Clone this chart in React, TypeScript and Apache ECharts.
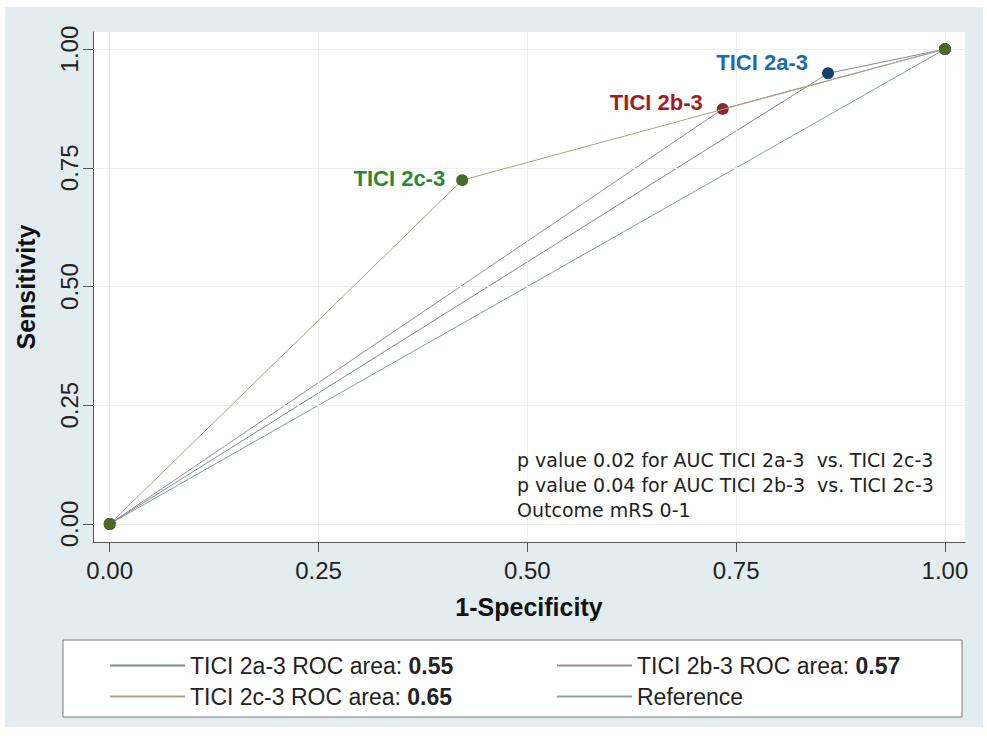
import React, { useEffect, useRef } from "react";
import * as echarts from "echarts";

// ---- data ----
const curveNames = ["TICI 2a-3", "TICI 2b-3", "TICI 2c-3"];
const rocAreas = ["0.55", "0.57", "0.65"];
const fprPoints = [0.86, 0.734, 0.422]; // 1-Specificity at cut point
const tprPoints = [0.949, 0.874, 0.724]; // Sensitivity at cut point
const referenceX = [0, 1];
const referenceY = [0, 1];
const xTicks = [0, 0.25, 0.5, 0.75, 1];
const yTicks = [0, 0.25, 0.5, 0.75, 1];
const annotationLines = [
  "p value 0.02 for AUC TICI 2a-3  vs. TICI 2c-3",
  "p value 0.04 for AUC TICI 2b-3  vs. TICI 2c-3",
  "Outcome mRS 0-1",
];

// ---- styles ----
const lineColors = ["#7d8c98", "#a48a94", "#aaa58a"];
const refLineColor = "#86a09c";
const dotColors = ["#173f6e", "#8c2a30", "#4a6a28"];
const labelColors = ["#1c6bb0", "#a01e22", "#2b8a2b"];
const labelOffsets = [[0, -11], [0, -6], [0, -2]];
const labelDistances = [14, 14, 11];

const fmt = (v: number) => v.toFixed(2);

export default function App() {
  const ref = useRef<HTMLDivElement>(null);
  useEffect(() => {
    if (!ref.current) return;
    const chart = echarts.init(ref.current, null, { renderer: "svg" });

    const seriesNames = curveNames.map((n, i) => `${n} ROC area: ${rocAreas[i]}`);
    const refName = "Reference";

    const curveSeries = curveNames.map((n, i) => ({
      type: "line",
      name: seriesNames[i],
      z: 3 + i,
      symbol: "circle",
      symbolSize: 12,
      showAllSymbol: true,
      lineStyle: { color: lineColors[i], width: 1 },
      itemStyle: { color: dotColors[i] },
      data: [
        [0, 0],
        {
          value: [fprPoints[i], tprPoints[i]],
          label: {
            show: true,
            formatter: n,
            position: "left",
            distance: labelDistances[i],
            offset: labelOffsets[i],
            color: labelColors[i],
            fontFamily: "Liberation Sans, Arial, sans-serif",
            fontWeight: "bold",
            fontSize: 22,
          },
        },
        [1, 1],
      ],
    }));

    const richFmt = (name: string) => {
      const idx = name.indexOf(": ");
      if (idx < 0) return `{n|${name}}`;
      return `{n|${name.slice(0, idx + 2)}}{b|${name.slice(idx + 2)}}`;
    };
    const legendText = {
      fontFamily: "Liberation Sans, Arial, sans-serif",
      fontSize: 23,
      color: "#222",
      rich: {
        n: { fontFamily: "Liberation Sans, Arial, sans-serif", fontSize: 23, color: "#222" },
        b: { fontFamily: "Liberation Sans, Arial, sans-serif", fontSize: 23, color: "#222", fontWeight: "bold" },
      },
    };
    const legendBase = {
      orient: "vertical",
      top: 649,
      itemWidth: 75,
      itemHeight: 2,
      itemGap: 8,
      textStyle: legendText,
      formatter: richFmt,
      selectedMode: false,
      z: 10,
    };

    chart.setOption({
      animation: false,
      backgroundColor: "#ffffff",
      title: {
        text: annotationLines.join("\n"),
        left: 512,
        top: 442,
        z: 20,
        textStyle: {
          fontFamily: "DejaVu Sans, Verdana, sans-serif",
          fontSize: 19,
          fontWeight: "normal",
          lineHeight: 25,
          color: "#222",
        },
      },
      graphic: [
        {
          type: "rect",
          z: -10,
          shape: { x: 5, y: 7, width: 978, height: 720 },
          style: { fill: "#e3edef" },
        },
        {
          type: "rect",
          z: 1,
          shape: { x: 63, y: 640, width: 899, height: 77 },
          style: { fill: "#ffffff", stroke: "#7a7a7a", lineWidth: 1 },
        },
      ],
      grid: {
        left: 93,
        right: 22,
        top: 32,
        bottom: 198,
        show: true,
        backgroundColor: "#ffffff",
        borderWidth: 0,
      },
      xAxis: {
        type: "value",
        min: -0.02,
        max: 1.024,
        name: "1-Specificity",
        nameLocation: "middle",
        nameGap: 52,
        nameTextStyle: {
          fontFamily: "Liberation Sans, Arial, sans-serif",
          fontWeight: "bold",
          fontSize: 25,
          color: "#111",
        },
        axisLine: { show: true, onZero: false, lineStyle: { color: "#555", width: 1 } },
        axisTick: { show: true, length: 10, customValues: xTicks, lineStyle: { color: "#555" } },
        axisLabel: {
          customValues: xTicks,
          formatter: (v: number) => fmt(v),
          margin: 16,
          fontFamily: "Liberation Sans, Arial, sans-serif",
          fontSize: 24,
          color: "#222",
        },
        splitLine: { show: false },
      },
      yAxis: {
        type: "value",
        min: -0.038,
        max: 1.036,
        name: "Sensitivity",
        nameLocation: "middle",
        nameGap: 55,
        nameTextStyle: {
          fontFamily: "Liberation Sans, Arial, sans-serif",
          fontWeight: "bold",
          fontSize: 25,
          color: "#111",
        },
        axisLine: { show: true, onZero: false, lineStyle: { color: "#555", width: 1 } },
        axisTick: { show: true, length: 10, customValues: yTicks, lineStyle: { color: "#555" } },
        axisLabel: {
          customValues: yTicks,
          formatter: (v: number) => fmt(v),
          rotate: 90,
          margin: 12,
          fontFamily: "Liberation Sans, Arial, sans-serif",
          fontSize: 24,
          color: "#222",
        },
        splitLine: { show: false },
      },
      legend: [
        {
          ...legendBase,
          left: 105,
          data: [0, 2].map((i) => ({ name: seriesNames[i], icon: "rect", itemStyle: { color: lineColors[i] } })),
        },
        {
          ...legendBase,
          left: 552,
          data: [
            { name: seriesNames[1], icon: "rect", itemStyle: { color: lineColors[1] } },
            { name: refName, icon: "rect", itemStyle: { color: refLineColor } },
          ],
        },
      ],
      series: [
        {
          type: "line",
          name: refName,
          z: 2,
          symbol: "none",
          lineStyle: { color: refLineColor, width: 1 },
          itemStyle: { color: refLineColor },
          data: referenceX.map((x, i) => [x, referenceY[i]]),
          markLine: {
            silent: true,
            symbol: "none",
            label: { show: false },
            lineStyle: { color: "#efefef", width: 1, type: "solid" },
            data: [
              ...xTicks.map((v) => ({ xAxis: v })),
              ...yTicks.map((v) => ({ yAxis: v })),
            ],
          },
        },
        ...curveSeries,
      ],
    });
    return () => chart.dispose();
  }, []);
  return (
    <div
      ref={ref}
      style={{ position: "absolute", left: 0, top: 0, width: 987, height: 740 }}
    />
  );
}
